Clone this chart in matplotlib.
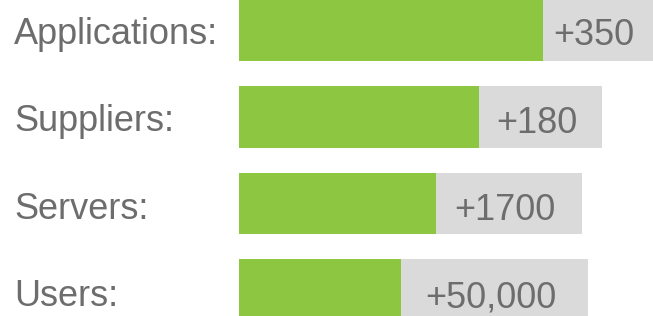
import matplotlib.pyplot as plt
import matplotlib.transforms as mtransforms

labels = ['Applications:', 'Suppliers:', 'Servers:', 'Users:']
values = ['+350', '+180', '+1700', '+50,000']
green = [304, 240, 197, 162]
total = [414, 363, 343, 349]

fig = plt.figure(figsize=(6.53, 3.16), dpi=100)
ax = fig.add_axes([239 / 653, 0, 1 - 239 / 653, 1])
ax.set_xlim(0, 414)
ax.set_ylim(3.308, -0.355)
ax.axis('off')

rows = range(len(labels))
ax.barh(rows, total, height=0.71, color='#dadada', left=0)
ax.barh(rows, green, height=0.71, color='#8dc641')

font = ['Liberation Sans', 'DejaVu Sans']
trans = mtransforms.blended_transform_factory(fig.transFigure, ax.transData)
for i in rows:
    # labels and values sit a touch lower on the lower rows
    dy = 0.155 + 0.012 * i
    fig.text(14 / 653, i + dy, labels[i], transform=trans, ha='left', va='baseline',
             fontsize=26, color='#6d6d6d', family=font)
    ax.text((green[i] + total[i]) / 2 - 4, i + dy + 0.015, values[i], ha='center',
            va='baseline', fontsize=26, color='#6d6d6d', family=font)

fig.savefig('out.png', dpi=100)
